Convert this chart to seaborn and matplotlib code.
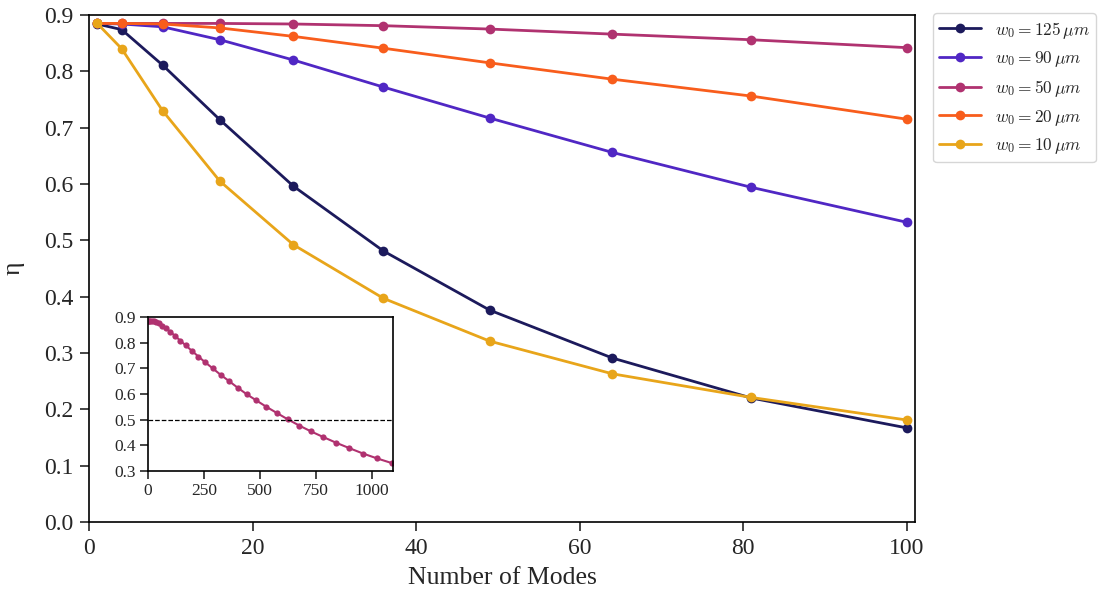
import matplotlib
matplotlib.use('Agg')
import matplotlib.pyplot as plt
import seaborn as sns
import numpy as np
import pandas as pd

# number of modes (squares 1..100)
modes = [1, 4, 9, 16, 25, 36, 49, 64, 81, 100]

eta_w125 = [0.884, 0.874, 0.811, 0.714, 0.596, 0.481, 0.376, 0.291, 0.220, 0.167]
eta_w90 = [0.885, 0.884, 0.879, 0.856, 0.820, 0.772, 0.717, 0.656, 0.594, 0.532]
eta_w50 = [0.885, 0.885, 0.885, 0.885, 0.884, 0.881, 0.875, 0.866, 0.856, 0.842]
eta_w20 = [0.885, 0.885, 0.884, 0.877, 0.862, 0.841, 0.815, 0.786, 0.756, 0.715]
eta_w10 = [0.885, 0.840, 0.730, 0.605, 0.492, 0.397, 0.321, 0.263, 0.221, 0.181]

labels = [r'$w_0 = 125\,\mu m$', r'$w_0 = 90\,\mu m$', r'$w_0 = 50\,\mu m$',
          r'$w_0 = 20\,\mu m$', r'$w_0 = 10\,\mu m$']
colors = ['#1c1a5c', '#5027c4', '#b03270', '#f85d1c', '#e8a51a']

# inset: w0 = 50 um extended to 33^2 modes
inset_modes = [1, 4, 9, 16, 25, 36, 49, 64, 81, 100, 121, 144, 169, 196, 225, 256,
               289, 324, 361, 400, 441, 484, 529, 576, 625, 676, 729, 784, 841,
               900, 961, 1024, 1089]
inset_eta = [0.885, 0.885, 0.885, 0.885, 0.884, 0.881, 0.875, 0.866, 0.856, 0.842,
             0.826, 0.808, 0.789, 0.768, 0.746, 0.723, 0.700, 0.675, 0.651, 0.625,
             0.599, 0.575, 0.550, 0.526, 0.501, 0.477, 0.454, 0.432, 0.410, 0.389,
             0.368, 0.349, 0.331]

sns.set_style('ticks')
plt.rcParams['font.family'] = ['Liberation Serif', 'DejaVu Serif']
plt.rcParams['mathtext.fontset'] = 'cm'

fig = plt.figure(figsize=(10.99, 6.04), dpi=100)
ax = fig.add_axes([0.081, 0.1358, 0.7516, 0.8394])

series = [eta_w125, eta_w90, eta_w50, eta_w20, eta_w10]
for vals, lab, col in zip(series, labels, colors):
    sns.lineplot(x=modes, y=vals, ax=ax, color=col, label=lab, marker='o',
                 markersize=7, markeredgewidth=0, linewidth=2)

ax.set_xlim(0, 101)
ax.set_ylim(0, 0.9)
ax.set_xticks([0, 20, 40, 60, 80, 100])
ax.set_yticks(np.arange(0, 0.91, 0.1))
ax.set_xlabel('Number of Modes', fontsize=18.5, labelpad=6)
ax.set_ylabel('η', fontsize=18.5, labelpad=14)
ax.tick_params(labelsize=17, length=6.5, width=1.2, pad=5, direction='out')
for s in ax.spines.values():
    s.set_linewidth(1.2)
    s.set_color('black')

leg = ax.legend(loc='upper left', bbox_to_anchor=(1.022, 1.003), fontsize=12.5,
                frameon=True, handlelength=2.4, borderaxespad=0, borderpad=0.35)
leg.get_frame().set_edgecolor('#cccccc')

# inset
axin = fig.add_axes([0.1347, 0.2202, 0.2229, 0.255])
sns.lineplot(x=inset_modes, y=inset_eta, ax=axin, color=colors[2], marker='o',
             markersize=4.5, markeredgewidth=0, linewidth=1.5)
axin.axhline(0.5, color='black', linestyle='--', linewidth=0.9)
axin.set_xlim(0, 1095)
axin.set_ylim(0.3, 0.9)
axin.set_xticks([0, 250, 500, 750, 1000])
axin.set_yticks(np.arange(0.3, 0.91, 0.1))
axin.set_yticklabels(['0.3', '0.4', '0.5', '0.6', '0.7', '0.8', '0.9'])
axin.tick_params(labelsize=12.5, length=6, width=1.2, pad=3, direction='out')
for s in axin.spines.values():
    s.set_linewidth(1.2)
    s.set_color('black')

fig.savefig('out.png', dpi=100)
